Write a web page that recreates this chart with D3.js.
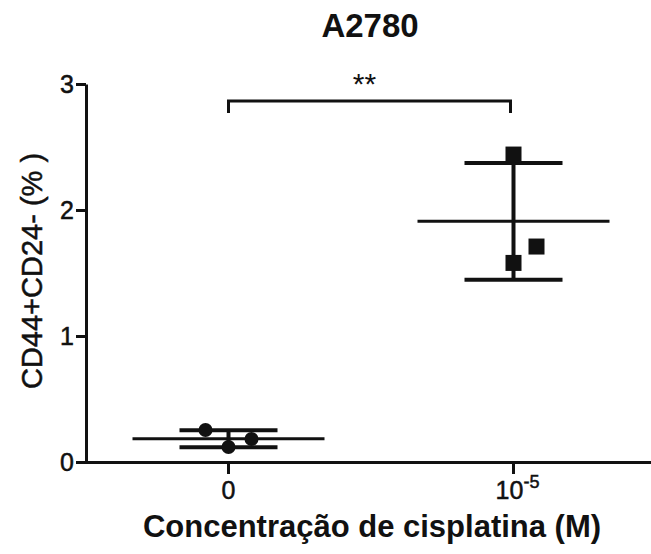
<!DOCTYPE html>
<html>
    <head>
        <title>A2780</title>
        <meta charset="UTF-8">
        <script src="https://d3js.org/d3.v7.min.js"></script>
        <style>
            body { margin: 0; background: white; }
            text { font-family: Arial, "Liberation Sans", sans-serif; fill: #111; }
            .heavy { stroke: #111; stroke-width: 0.5px; }
        </style>
    </head>
    <body>
        <script>
            var w = 651, h = 554;
            var categories = ["0", "1e-5"];
            var ctrlValues = [0.254, 0.119, 0.183];
            var cisValues = [2.44, 1.71, 1.58];
            var ctrlJitter = [-1, 0, 1];   // horizontal spread of the points, in steps
            var cisJitter = [0, 1, 0];
            var yTicks = [0, 1, 2, 3];
            var groups = [
                {cat: "0", vals: ctrlValues, jit: ctrlJitter, shape: "circle"},
                {cat: "1e-5", vals: cisValues, jit: cisJitter, shape: "square"}
            ];

            var svg = d3.select("body").append("svg")
                    .attr("width", w).attr("height", h);

            var x = d3.scaleBand().domain(categories).range([86, 656]);
            var y = d3.scaleLinear().domain([0, 3]).range([462, 84]);
            function cx(c) { return x(c) + x.bandwidth() / 2; }

            // axes
            var yAxis = svg.append("g")
                    .attr("transform", "translate(86,0)")
                    .call(d3.axisLeft(y).tickValues(yTicks).tickSize(10).tickSizeOuter(0).tickFormat(d3.format("d")));
            yAxis.selectAll("path, line").attr("stroke", "#111").attr("stroke-width", 3);
            yAxis.selectAll("text").attr("font-size", 25).attr("x", -12).attr("dy", "0.35em")
                    .attr("class", "heavy");

            var xAxis = svg.append("g")
                    .attr("transform", "translate(0,462)")
                    .call(d3.axisBottom(x).tickSize(12).tickSizeOuter(0).tickFormat(""));
            xAxis.selectAll("path, line").attr("stroke", "#111").attr("stroke-width", 3);
            xAxis.select(".domain").attr("d", "M84.5,0.5H651");

            // tick labels
            svg.append("text").attr("x", cx("0")).attr("y", 499).attr("class", "heavy")
                    .attr("text-anchor", "middle").attr("font-size", 25).text("0");
            var sup = svg.append("text").attr("x", cx("1e-5") + 4).attr("y", 499).attr("class", "heavy")
                    .attr("text-anchor", "middle").attr("font-size", 25);
            sup.append("tspan").text("10");
            sup.append("tspan").attr("dy", -11).attr("font-size", 18).text("-5");

            // mean and SD lines, then the points
            groups.forEach(function(g) {
                var m = d3.mean(g.vals), s = d3.deviation(g.vals), c = cx(g.cat);
                var gg = svg.append("g").attr("stroke", "#111");
                gg.append("line").attr("x1", c - 96).attr("x2", c + 96)
                        .attr("y1", y(m)).attr("y2", y(m)).attr("stroke-width", 3);
                gg.append("line").attr("x1", c).attr("x2", c)
                        .attr("y1", y(m + s)).attr("y2", y(m - s)).attr("stroke-width", 4);
                [m + s, m - s].forEach(function(v) {
                    gg.append("line").attr("x1", c - 49).attr("x2", c + 49)
                            .attr("y1", y(v)).attr("y2", y(v)).attr("stroke-width", 4);
                });

                g.vals.forEach(function(v, i) {
                    var px = c + g.jit[i] * 23;
                    if (g.shape === "circle") {
                        svg.append("circle").attr("cx", px).attr("cy", y(v)).attr("r", 7).attr("fill", "#111");
                    } else {
                        svg.append("rect").attr("x", px - 8).attr("y", y(v) - 8)
                                .attr("width", 16).attr("height", 16).attr("fill", "#111");
                    }
                });
            });

            // significance bracket
            var bx1 = cx("0"), bx2 = cx("1e-5") - 3, by = 101;
            svg.append("path")
                    .attr("d", "M" + bx1 + "," + (by + 12) + "V" + by + "H" + bx2 + "V" + (by + 12))
                    .attr("fill", "none").attr("stroke", "#111").attr("stroke-width", 3);
            svg.append("text").attr("x", (bx1 + bx2) / 2 - 5).attr("y", 94)
                    .attr("text-anchor", "middle").attr("font-size", 30).text("**");

            // titles
            svg.append("text").attr("x", 370).attr("y", 37).attr("text-anchor", "middle")
                    .attr("font-size", 33).attr("font-weight", "bold").text("A2780");
            svg.append("text").attr("transform", "translate(42,271) rotate(-90)").attr("class", "heavy")
                    .attr("text-anchor", "middle").attr("font-size", 29).text("CD44+CD24- (% )");
            svg.append("text").attr("x", 372).attr("y", 537).attr("text-anchor", "middle")
                    .attr("font-size", 31).attr("font-weight", "bold").text("Concentração de cisplatina (M)");
        </script>
    </body>
</html>
